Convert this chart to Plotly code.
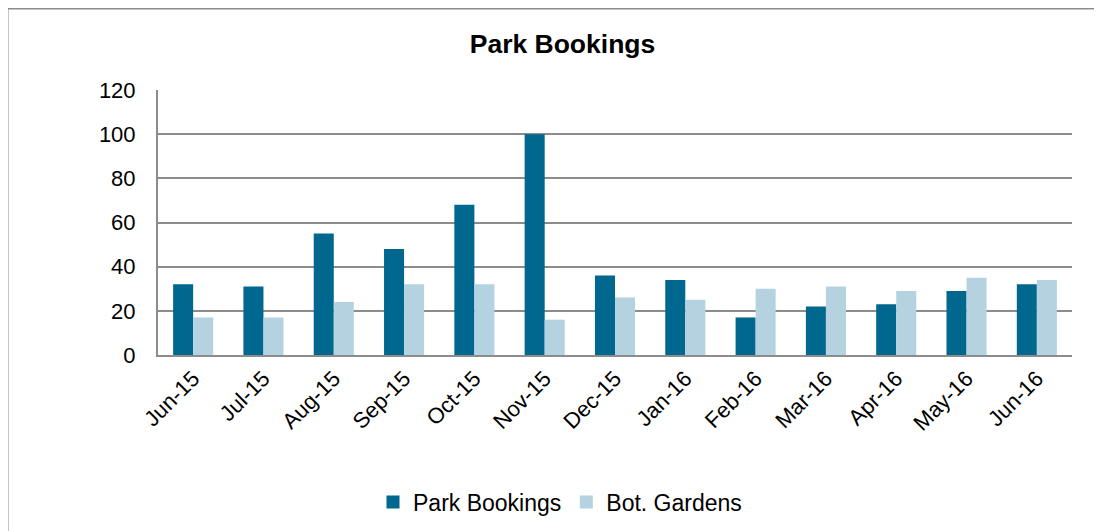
import plotly.graph_objects as go

months = ["Jun-15", "Jul-15", "Aug-15", "Sep-15", "Oct-15", "Nov-15", "Dec-15",
          "Jan-16", "Feb-16", "Mar-16", "Apr-16", "May-16", "Jun-16"]
park_bookings = [32, 31, 55, 48, 68, 100, 36, 34, 17, 22, 23, 29, 32]
bot_gardens = [17, 17, 24, 32, 32, 16, 26, 25, 30, 31, 29, 35, 34]
y_ticks = [0, 20, 40, 60, 80, 100, 120]

# page is offset by the 8px body margin; coordinates below are figure coords
OFF = 8
W, H = 1102, 531
L, R, T, B = 158 - OFF, 1072 - OFF, 90 - OFF, 355 - OFF

def px_x(p):
    return (p - OFF - L) / (R - L)

def px_y(p):
    return (B - (p - OFF)) / (B - T)

DARK = "#00678F"
LIGHT = "#B4D2E0"

fig = go.Figure()
fig.add_trace(go.Bar(name="Park Bookings", x=months, y=park_bookings,
                     marker=dict(color=DARK, line=dict(width=0)),
                     showlegend=False, legendgroup="a"))
fig.add_trace(go.Bar(name="Bot. Gardens", x=months, y=bot_gardens,
                     marker=dict(color=LIGHT, line=dict(width=0)),
                     showlegend=False, legendgroup="b"))
# legend-only square markers
fig.add_trace(go.Scatter(name="Park Bookings", x=[None], y=[None], mode="markers",
                         marker=dict(symbol="square", size=13, color=DARK),
                         legendgroup="a"))
fig.add_trace(go.Scatter(name="Bot. Gardens", x=[None], y=[None], mode="markers",
                         marker=dict(symbol="square", size=13, color=LIGHT),
                         legendgroup="b"))

font = "Liberation Sans, Arial, sans-serif"

fig.update_layout(
    template="none",
    width=W, height=H,
    margin=dict(l=L, r=W - R, t=T, b=H - B, pad=0, autoexpand=False),
    paper_bgcolor="white", plot_bgcolor="white",
    font=dict(family=font, size=22, color="black"),
    barmode="group", bargap=0.43, bargroupgap=0,
    title=dict(text="<b>Park Bookings</b>", x=(562.5 - OFF) / W, xanchor="center",
               y=1 - (44 - OFF) / H, yanchor="middle",
               font=dict(family=font, size=26.5, color="black")),
    showlegend=True,
    legend=dict(orientation="h", x=px_x(560), xanchor="center",
                y=px_y(502), yanchor="middle",
                font=dict(family=font, size=23, color="black"),
                itemwidth=30, tracegroupgap=0, bgcolor="rgba(0,0,0,0)"),
    xaxis=dict(tickangle=-45, showgrid=False, showline=True, automargin=False,
               linecolor="#8C8C8C", linewidth=2, ticks="",
               tickfont=dict(family=font, size=22, color="black")),
    yaxis=dict(range=[0, 120], tickvals=y_ticks, showgrid=True, automargin=False,
               gridcolor="#8C8C8C", gridwidth=2, showline=True,
               linecolor="#8C8C8C", linewidth=2, ticks="",
               ticklabelstandoff=16, zeroline=False,
               tickfont=dict(family=font, size=22, color="black")),
    shapes=[dict(type="rect", xref="paper", yref="paper",
                 x0=px_x(7.5), y0=px_y(600), x1=px_x(1200), y1=px_y(8.5),
                 line=dict(color="#8C8C8C", width=2), layer="below")],
)

fig.write_html("out.html")
